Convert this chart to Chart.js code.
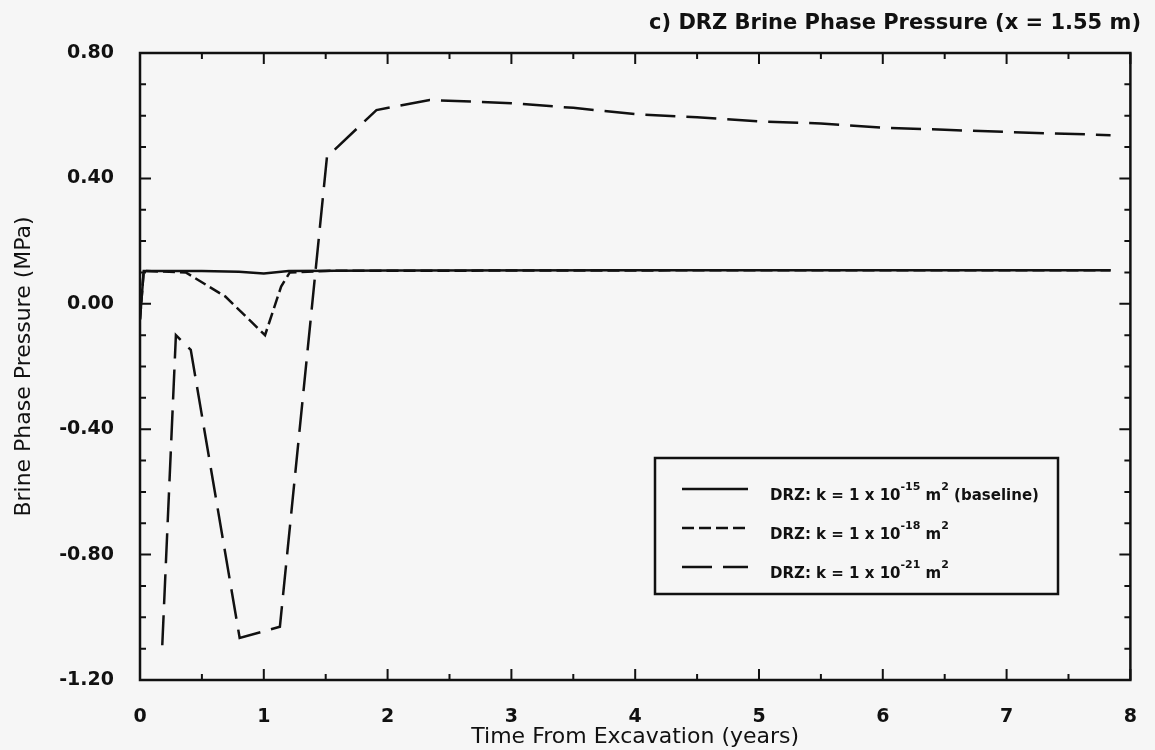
<!DOCTYPE html>
<html>
<head>
<meta charset="utf-8">
<script src="https://cdn.jsdelivr.net/npm/chart.js@4.4.0/dist/chart.umd.min.js"></script>
<style>
  body { margin: 0; background: #f6f6f6; }
  #wrap { width: 1155px; height: 750px; }
</style>
</head>
<body>
<div id="wrap"><canvas id="chart" width="1155" height="750"></canvas></div>
<script>
// Time (years) and brine pressure (MPa) at x = 1.55 m in the DRZ
const timeBase = [0, 0.03, 0.5, 0.8, 1.0, 1.2, 2.0, 4.0, 6.0, 7.84];
const presBase = [-0.05, 0.105, 0.105, 0.102, 0.097, 0.105, 0.106, 0.107, 0.107, 0.107];

const time18 = [0, 0.03, 0.37, 0.69, 1.01, 1.14, 1.21, 1.5, 3.0, 5.0, 7.84];
const pres18 = [-0.05, 0.105, 0.10, 0.023, -0.10, 0.055, 0.10, 0.105, 0.106, 0.107, 0.107];

const time21 = [0.18, 0.29, 0.41, 0.805, 1.13, 1.51, 1.91, 2.34, 3.0, 3.5, 4.0, 4.5, 5.0, 5.5, 6.0, 6.5, 7.0, 7.84];
const pres21 = [-1.089, -0.10, -0.147, -1.066, -1.03, 0.468, 0.618, 0.650, 0.640, 0.625, 0.605, 0.595, 0.582, 0.575, 0.562, 0.555, 0.548, 0.538];

const xTicks = [0, 1, 2, 3, 4, 5, 6, 7, 8];
const yTicks = [0.8, 0.4, 0.0, -0.4, -0.8, -1.2];

const legendLabels = [
  [['DRZ: k = 1 x 10', false], ['-15', true], [' m', false], ['2', true], [' (baseline)', false]],
  [['DRZ: k = 1 x 10', false], ['-18', true], [' m', false], ['2', true]],
  [['DRZ: k = 1 x 10', false], ['-21', true], [' m', false], ['2', true]]
];

const INK = '#111';
const FAMILY = '"DejaVu Sans", Verdana, sans-serif';
const toPoints = (xs, ys) => xs.map((x, i) => ({ x: x, y: ys[i] }));

// background, frame, inward ticks, heading and the boxed legend
const decorations = {
  id: 'decorations',
  beforeDraw(chart) {
    const ctx = chart.ctx;
    ctx.save();
    ctx.fillStyle = '#f6f6f6';
    ctx.fillRect(0, 0, chart.width, chart.height);
    ctx.restore();
  },
  afterDatasetsDraw(chart) {
    const ctx = chart.ctx;
    const a = chart.chartArea;
    const xs = chart.scales.x;
    const ys = chart.scales.y;
    ctx.save();
    ctx.strokeStyle = INK;
    ctx.lineWidth = 2.5;
    ctx.strokeRect(a.left, a.top, a.right - a.left, a.bottom - a.top);

    ctx.lineWidth = 2;
    ctx.beginPath();
    for (let i = 0; i <= 16; i++) {
      const v = i * 0.5;
      const len = i % 2 === 0 ? 11 : 6;
      const px = xs.getPixelForValue(v);
      ctx.moveTo(px, a.bottom); ctx.lineTo(px, a.bottom - len);
      ctx.moveTo(px, a.top); ctx.lineTo(px, a.top + len);
    }
    for (let i = 0; i <= 20; i++) {
      const v = -1.2 + i * 0.1;
      const len = i % 4 === 0 ? 11 : 6;
      const py = ys.getPixelForValue(v);
      ctx.moveTo(a.left, py); ctx.lineTo(a.left + len, py);
      ctx.moveTo(a.right, py); ctx.lineTo(a.right - len, py);
    }
    ctx.stroke();

    // heading
    ctx.fillStyle = INK;
    ctx.font = 'bold 21px ' + FAMILY;
    ctx.textAlign = 'right';
    ctx.textBaseline = 'middle';
    ctx.fillText('c) DRZ Brine Phase Pressure (x = 1.55 m)', 1141, 24);

    // legend box
    const box = { left: 655, top: 458, right: 1058, bottom: 594 };
    ctx.lineWidth = 2.5;
    ctx.strokeRect(box.left, box.top, box.right - box.left, box.bottom - box.top);
    const rows = [489, 528, 567];
    chart.data.datasets.forEach((ds, i) => {
      const y = rows[i];
      ctx.lineWidth = 2.5;
      ctx.setLineDash(ds.borderDash || []);
      ctx.beginPath();
      ctx.moveTo(682, y);
      ctx.lineTo(748, y);
      ctx.stroke();
      ctx.setLineDash([]);
      let x = 770;
      const ty = y + 7;
      ctx.textAlign = 'left';
      legendLabels[i].forEach(([txt, sup]) => {
        ctx.font = sup ? 'bold 11px ' + FAMILY : 'bold 15px ' + FAMILY;
        ctx.fillText(txt, x, sup ? ty - 9 : ty);
        x += ctx.measureText(txt).width;
      });
    });
    ctx.restore();
  }
};

const tickFont = { family: FAMILY, size: 19, weight: 'bold' };
const titleFont = { family: FAMILY, size: 22 };

new Chart(document.getElementById('chart'), {
  type: 'line',
  data: {
    datasets: [
      {
        label: 'baseline',
        data: toPoints(timeBase, presBase),
        borderColor: INK, borderWidth: 2.5,
        pointRadius: 0, tension: 0
      },
      {
        label: 'k18',
        data: toPoints(time18, pres18),
        borderColor: INK, borderWidth: 2.5, borderDash: [12, 5],
        pointRadius: 0, tension: 0
      },
      {
        label: 'k21',
        data: toPoints(time21, pres21),
        borderColor: INK, borderWidth: 2.5, borderDash: [30, 11],
        pointRadius: 0, tension: 0
      }
    ]
  },
  options: {
    responsive: false,
    animation: false,
    layout: { padding: { top: 53, right: 12, left: 0, bottom: 0 } },
    plugins: { legend: { display: false }, tooltip: { enabled: false } },
    scales: {
      x: {
        type: 'linear', min: 0, max: 8,
        grid: { display: false },
        border: { display: false },
        afterFit: (s) => { s.height = 70; },
        afterBuildTicks: (s) => { s.ticks = xTicks.map(v => ({ value: v })); },
        ticks: { color: INK, font: tickFont, padding: 18, maxRotation: 0,
                 callback: (v) => String(v) },
        title: { display: true, text: 'Time From Excavation (years)', color: INK,
                 font: titleFont, padding: { top: 0, bottom: 0 } }
      },
      y: {
        type: 'linear', min: -1.2, max: 0.8,
        grid: { display: false },
        border: { display: false },
        afterFit: (s) => { s.width = 140; },
        afterBuildTicks: (s) => { s.ticks = yTicks.map(v => ({ value: v })); },
        ticks: { color: INK, font: tickFont, padding: 18,
                 callback: (v) => { const t = Number(v).toFixed(2); return t === '-0.00' ? '0.00' : t; } },
        title: { display: true, text: 'Brine Phase Pressure (MPa)', color: INK,
                 font: titleFont, padding: { top: 11, bottom: 0 } }
      }
    }
  },
  plugins: [decorations]
});
</script>
</body>
</html>
